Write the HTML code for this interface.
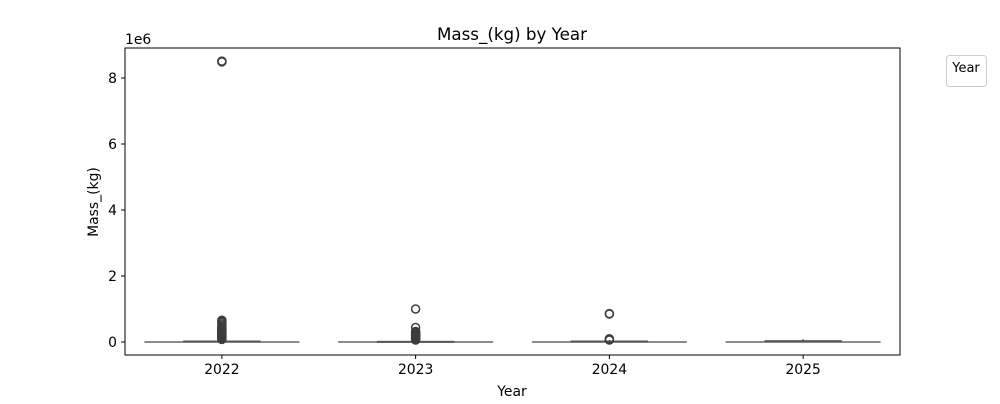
<!DOCTYPE html>
<html><head><meta charset="utf-8"><style>
body{margin:0;background:#fff;font-family:"DejaVu Sans","Liberation Sans",sans-serif}
</style></head><body>
<svg id="c" width="1000" height="400" xmlns="http://www.w3.org/2000/svg" font-family="DejaVu Sans, Liberation Sans, sans-serif"></svg>
<script>
const categories=["2022","2023","2024","2025"];
const q1=[0.0,0.0,0.0,0.01];
const q3=[0.03,0.02,0.03,0.04];
const whiskLo=[0,0,0,0];
const whiskHi=[0.06,0.05,0.06,0.08];
const outliers=[
 [0.08,0.1,0.12,0.14,0.16,0.18,0.2,0.22,0.24,0.26,0.28,0.3,0.32,0.34,0.36,0.38,0.4,0.42,0.44,0.46,0.5,0.55,0.6,0.63,0.66,8.49,8.5,8.51],
 [0.06,0.08,0.1,0.12,0.14,0.16,0.18,0.2,0.22,0.24,0.26,0.28,0.3,0.32,0.44,1.0],
 [0.06,0.08,0.1,0.85,0.86],
 []
];
const yTicks=[0,2,4,6,8];
const NS="http://www.w3.org/2000/svg";
const svg=document.getElementById('c');
const L=125,R=900,T=48,B=355;
const y=v=>342-v*33;
const bw=(R-L)/categories.length;
const xc=i=>L+bw*(i+0.5);
function el(tag,attrs,parent){const e=document.createElementNS(NS,tag);for(const k in attrs)e.setAttribute(k,attrs[k]);(parent||svg).appendChild(e);return e;}
function txt(s,attrs){const t=el('text',attrs);t.textContent=s;return t;}
let t;
t=txt("Mass_(kg) by Year",{x:512,y:40,'text-anchor':'middle','font-size':16.7,fill:'#000'});

yTicks.forEach(v=>{
 const g=el('g',{});
 
 el('line',{x1:L-4,x2:L,y1:y(v),y2:y(v),stroke:'#000'},g);
 const tt=el('text',{x:L-8,y:y(v)+5,'text-anchor':'end','font-size':13.9},g);tt.textContent=v;
});
t=txt("1e6",{x:125,y:44,'font-size':13.9});
categories.forEach((c,i)=>{
 const g=el('g',{});
 
 el('line',{x1:xc(i),x2:xc(i),y1:B,y2:B+4,stroke:'#000'},g);
 const tt=el('text',{x:xc(i),y:B+19,'text-anchor':'middle','font-size':13.9},g);tt.textContent=c;
 const bg=el('g',{});
 
 el('line',{x1:xc(i)-bw*0.4,x2:xc(i)+bw*0.4,y1:y(whiskLo[i]),y2:y(whiskLo[i]),stroke:'#666','stroke-width':1.5},bg);
 el('rect',{x:xc(i)-bw*0.2,y:y(q3[i])-0.5,width:bw*0.4,height:Math.max(2,y(q1[i])-y(q3[i])+1),fill:'#555'},bg);
 el('line',{x1:xc(i),x2:xc(i),y1:y(whiskHi[i]),y2:y(q3[i]),stroke:'#444','stroke-width':1.5},bg);
 outliers[i].forEach(v=>{
  const o=el('circle',{cx:xc(i),cy:y(v),r:4,fill:'none',stroke:'#3d3d3d','stroke-width':1.5});
  
 });
});
t=el('rect',{x:L,y:T,width:R-L,height:B-T,fill:'none',stroke:'#000','stroke-width':1});

t=txt("Year",{x:512,y:396,'text-anchor':'middle','font-size':13.9});
t=txt("Mass_(kg)",{x:0,y:0,'text-anchor':'middle','font-size':13.9,transform:'translate(98,202) rotate(-90)'});
const lg=el('g',{});

el('rect',{x:946.5,y:55.5,width:40,height:31,rx:3,fill:'#fff',stroke:'#ccc'},lg);
const lt=el('text',{x:966,y:72,'text-anchor':'middle','font-size':13},lg);lt.textContent="Year";
</script>
</body></html>
